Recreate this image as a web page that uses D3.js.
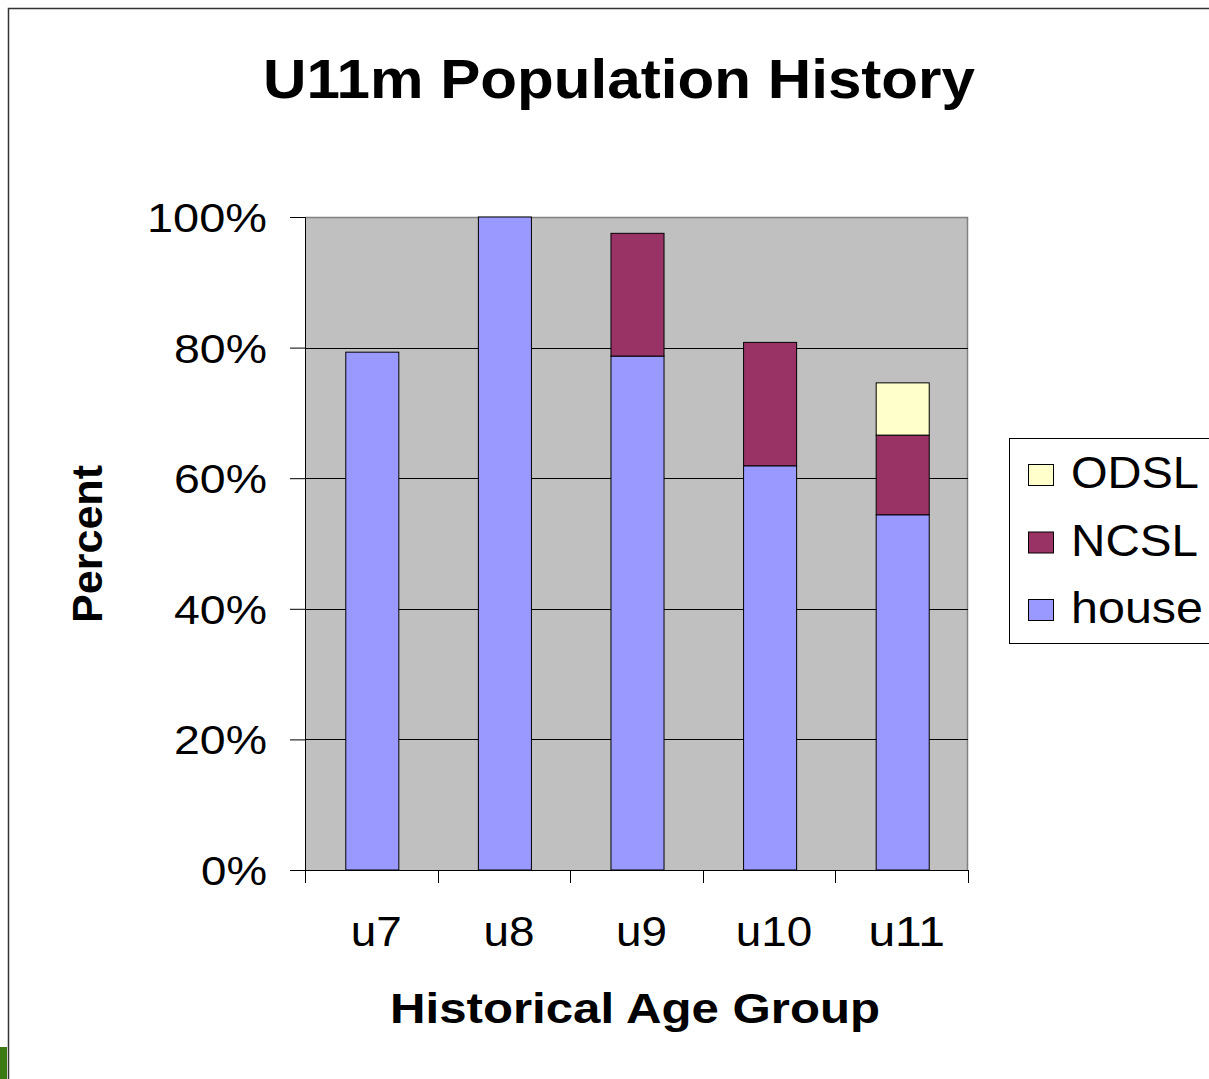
<!DOCTYPE html>
<meta charset="utf-8">
<style>
  body { margin: 0; background: #fff; }
  text { font-family: "Liberation Sans", Arial, sans-serif; }
</style>
<body>
  <script src="https://cdn.jsdelivr.net/npm/d3@7"></script>
  <script>
    // chart data
    var groups = ["u7", "u8", "u9", "u10", "u11"];
    var seriesNames = ["house", "NCSL", "ODSL"];
    var house = [79.3, 100, 78.7, 61.9, 54.4];
    var ncsl = [0, 0, 18.8, 18.9, 12.2];
    var odsl = [0, 0, 0, 0, 8.0];
    var yTicks = [0, 20, 40, 60, 80, 100];
    var colors = ["#9999ff", "#993366", "#ffffcc"];

    var width = 1209, height = 1079;
    var plot = { left: 305, right: 968, top: 217, bottom: 870 };

    var svg = d3.select("body").append("svg")
      .attr("width", width)
      .attr("height", height);

    // stretch a text to a measured width
    function fit(sel, w) {
      sel.attr("textLength", w).attr("lengthAdjust", "spacingAndGlyphs");
    }

    // outer frame
    svg.append("path")
      .attr("d", "M8.5," + height + "V8.5H" + width)
      .attr("fill", "none")
      .attr("stroke", "#333")
      .attr("stroke-width", 1.5);
    svg.append("rect")
      .attr("x", 0).attr("y", 1047)
      .attr("width", 7).attr("height", 32)
      .attr("fill", "#3b7a12");

    var x = d3.scaleBand()
      .domain(groups)
      .range([plot.left, plot.right])
      .paddingInner(0.6)
      .paddingOuter(0.3);

    var y = d3.scaleLinear()
      .domain([0, 100])
      .range([plot.bottom, plot.top]);

    // plot area
    svg.append("rect")
      .attr("x", plot.left).attr("y", plot.top)
      .attr("width", plot.right - plot.left)
      .attr("height", plot.bottom - plot.top)
      .attr("fill", "#c0c0c0");
    svg.append("path")
      .attr("d", "M" + plot.left + "," + (plot.top + 0.5) + "H" + (plot.right - 0.5) + "V" + plot.bottom)
      .attr("fill", "none")
      .attr("stroke", "#808080")
      .attr("stroke-width", 1.5);

    // gridlines
    svg.selectAll(".grid")
      .data(yTicks.filter(function(d) { return d > 0 && d < 100; }))
      .enter().append("line")
      .attr("x1", plot.left).attr("x2", plot.right)
      .attr("y1", function(d) { return Math.round(y(d)) + 0.5; })
      .attr("y2", function(d) { return Math.round(y(d)) + 0.5; })
      .attr("stroke", "#000");

    // stacked bars
    var table = groups.map(function(g, i) {
      return { group: g, house: house[i], NCSL: ncsl[i], ODSL: odsl[i] };
    });
    var stack = d3.stack().keys(seriesNames)(table);

    svg.selectAll(".layer")
      .data(stack)
      .enter().append("g")
      .attr("fill", function(d, i) { return colors[i]; })
      .selectAll("rect")
      .data(function(d) { return d.filter(function(p) { return p[1] - p[0] > 0; }); })
      .enter().append("rect")
      .attr("x", function(d) { return x(d.data.group) + 1; })
      .attr("y", function(d) { return y(d[1]); })
      .attr("width", x.bandwidth())
      .attr("height", function(d) { return y(d[0]) - y(d[1]); })
      .attr("stroke", "#000")
      .attr("stroke-width", 1);

    // y axis
    var yAxis = svg.append("g")
      .attr("transform", "translate(" + plot.left + ",0)")
      .call(d3.axisLeft(y).tickValues(yTicks).tickSize(15).tickPadding(0).tickFormat(function(d) { return d + "%"; }));
    yAxis.select(".domain").attr("stroke", "#000");
    yAxis.selectAll(".tick line").attr("stroke", "#000");
    yAxis.selectAll(".tick text")
      .attr("x", -38)
      .attr("dy", "0.36em")
      .style("font-size", "40px")
      .attr("fill", "#000")
      .each(function(d) { fit(d3.select(this), String(d).length * 27 + 39); });

    // x axis
    var xAxis = svg.append("g")
      .attr("transform", "translate(0," + plot.bottom + ")");
    xAxis.append("line")
      .attr("x1", plot.left - 15).attr("x2", plot.right)
      .attr("y1", 0.5).attr("y2", 0.5)
      .attr("stroke", "#000");
    var bounds = groups.map(function(g) { return x(g) - x.step() * x.paddingInner() / 2; });
    bounds.push(plot.right);
    bounds[0] = plot.left;
    xAxis.selectAll(".xtick")
      .data(bounds)
      .enter().append("line")
      .attr("x1", function(d) { return Math.round(d) + 0.5; })
      .attr("x2", function(d) { return Math.round(d) + 0.5; })
      .attr("y1", 0).attr("y2", 13)
      .attr("stroke", "#000");
    xAxis.selectAll(".xlabel")
      .data(groups)
      .enter().append("text")
      .attr("x", function(d) { return x(d) + x.bandwidth() / 2 + 5 - d.length * 12.75; })
      .attr("y", 76)
      .style("font-size", "43px")
      .text(function(d) { return d; })
      .each(function(d) { fit(d3.select(this), d.length * 25.5); });

    // titles
    svg.append("text")
      .attr("x", 263).attr("y", 98)
      .style("font-size", "56px")
      .style("font-weight", "bold")
      .text("U11m Population History")
      .call(fit, 712);

    svg.append("text")
      .attr("x", 390).attr("y", 1023)
      .style("font-size", "43px")
      .style("font-weight", "bold")
      .text("Historical Age Group")
      .call(fit, 490);

    svg.append("text")
      .attr("transform", "translate(102,623) rotate(-90)")
      .style("font-size", "42px")
      .style("font-weight", "bold")
      .text("Percent")
      .call(fit, 158);

    // legend
    var legend = svg.append("g");
    legend.append("rect")
      .attr("x", 1009.5).attr("y", 438.5)
      .attr("width", 260).attr("height", 205)
      .attr("fill", "#fff")
      .attr("stroke", "#000");
    var legendOrder = [2, 1, 0];
    var legendWidths = [128, 127, 132];
    var item = legend.selectAll(".item")
      .data(legendOrder)
      .enter().append("g")
      .attr("transform", function(d, i) { return "translate(1028," + (464 + i * 67.5) + ")"; });
    item.append("rect")
      .attr("x", 0.5).attr("y", 0.5)
      .attr("width", 25).attr("height", 21)
      .attr("fill", function(d) { return colors[d]; })
      .attr("stroke", "#000");
    item.append("text")
      .attr("x", 43).attr("y", 24)
      .style("font-size", "44px")
      .text(function(d) { return seriesNames[d]; })
      .each(function(d, i) { fit(d3.select(this), legendWidths[i]); });
  </script>
</body>
